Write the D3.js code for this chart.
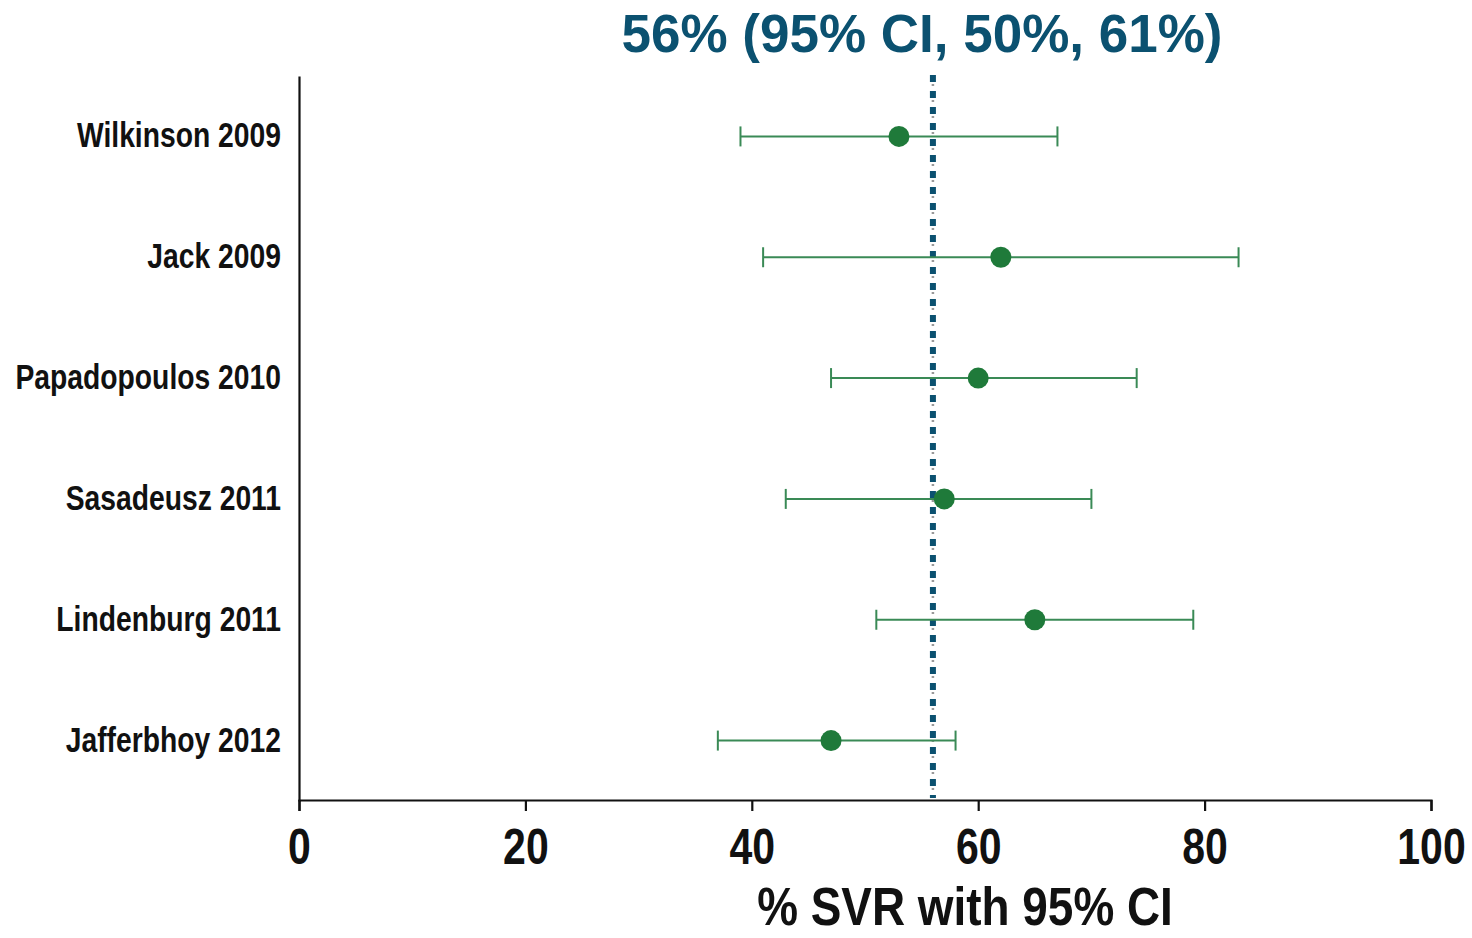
<!DOCTYPE html>
<html>
<head>
<meta charset="utf-8">
<script src="https://cdn.jsdelivr.net/npm/d3@7"></script>
<style>
  body { margin: 0; background: #fff; }
  text { font-family: "Liberation Sans", Arial, sans-serif; font-weight: bold; }
</style>
</head>
<body>
<div id="container"></div>
<script>
///declare size
let w = 1472,
  h = 938,
  narrow = 0.82; // squeeze to mimic a narrow bold face

//data
let studies = ["Wilkinson 2009", "Jack 2009", "Papadopoulos 2010", "Sasadeusz 2011", "Lindenburg 2011", "Jafferbhoy 2012"];
let svr = [53, 62, 60, 57, 65, 47];
let ciLow = [39, 41, 47, 43, 51, 37];
let ciHigh = [67, 83, 74, 70, 79, 58];
let pooled = 56;
let xTicks = [0, 20, 40, 60, 80, 100];
let title = "56% (95% CI, 50%, 61%)";
let xTitle = "% SVR with 95% CI";

let rows = studies.map((s, i) => ({ name: s, v: svr[i], lo: ciLow[i], hi: ciHigh[i] }));

///svg
let svg = d3.select("#container").
  append("svg").
  attr("width", w).
  attr("height", h);

///scales
let xScale = d3.scaleLinear().
  domain([0, 100]).
  range([299, 1431]);
let yScale = d3.scaleBand().
  domain(studies).
  range([76, 801]);

///Y-Axis (line only, labels left)
let yAxis = d3.axisLeft(yScale).tickSize(0);
let yg = svg.append("g").
  attr("transform", "translate(299,0)").
  call(yAxis);
yg.select(".domain").attr("stroke", "#111").attr("stroke-width", 2.2);
yg.selectAll(".tick text").
  attr("fill", "#111").
  attr("x", -18 / narrow).
  attr("transform", "scale(" + narrow + ",1)").
  style("font-size", "34.5px");

///X-Axis
let xAxis = d3.axisBottom(xScale).
  tickValues(xTicks).
  tickSize(11).
  tickPadding(18);
let xg = svg.append("g").
  attr("transform", "translate(0,800)").
  call(xAxis);
xg.select(".domain").attr("stroke", "#111").attr("stroke-width", 2.2);
xg.selectAll(".tick line").attr("stroke", "#111").attr("stroke-width", 2.2);
xg.selectAll(".tick text").
  attr("fill", "#111").
  attr("transform", "scale(" + narrow + ",1)").
  style("font-size", "50px");

///pooled line
let yc = d => yScale(d) + yScale.bandwidth() / 2;
svg.append("line").
  attr("x1", xScale(pooled)).attr("x2", xScale(pooled)).
  attr("y1", 76).attr("y2", 800).
  attr("stroke", "#9a9a9a").
  attr("stroke-width", 2.5).
  attr("stroke-dasharray", "2,6");
svg.append("line").
  attr("x1", xScale(pooled)).attr("x2", xScale(pooled)).
  attr("y1", 75).attr("y2", 798).
  attr("stroke", "#0b5170").
  attr("stroke-width", 6).
  attr("stroke-dasharray", "7,9");

///error bars
let bars = svg.selectAll(".bar").
  data(rows).
  enter().
  append("g").
  attr("class", "bar");
bars.append("line").
  attr("x1", d => xScale(d.lo)).attr("x2", d => xScale(d.hi)).
  attr("y1", d => yc(d.name)).attr("y2", d => yc(d.name)).
  attr("stroke", "#3a8a56").attr("stroke-width", 2);
bars.append("line").
  attr("x1", d => xScale(d.lo)).attr("x2", d => xScale(d.lo)).
  attr("y1", d => yc(d.name) - 10).attr("y2", d => yc(d.name) + 10).
  attr("stroke", "#3a8a56").attr("stroke-width", 2);
bars.append("line").
  attr("x1", d => xScale(d.hi)).attr("x2", d => xScale(d.hi)).
  attr("y1", d => yc(d.name) - 10).attr("y2", d => yc(d.name) + 10).
  attr("stroke", "#3a8a56").attr("stroke-width", 2);
bars.append("circle").
  attr("cx", d => xScale(d.v)).
  attr("cy", d => yc(d.name)).
  attr("r", 10.5).
  attr("fill", "#1f7a3a");

///titles
svg.append("text").
  attr("x", 922).attr("y", 52).
  attr("text-anchor", "middle").
  attr("fill", "#0b5170").
  style("font-size", "53px").
  text(title);
svg.append("text").
  attr("transform", "translate(965,925) scale(0.85,1)").
  attr("text-anchor", "middle").
  attr("fill", "#111").
  style("font-size", "54px").
  text(xTitle);
</script>
</body>
</html>
